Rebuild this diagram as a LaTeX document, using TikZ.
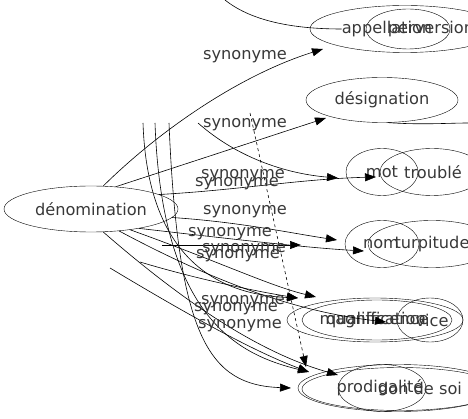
\documentclass[tikz,border=0pt]{standalone}
\usepackage{fontspec}
\setmainfont{DejaVu Sans}
\usetikzlibrary{arrows.meta,shapes.geometric}

\begin{document}
\begin{tikzpicture}[x=1pt,y=-1pt,font=\fontsize{16.2}{17}\selectfont,
  nd/.style={draw,ellipse,inner sep=0pt,minimum width=#1},
  edge/.style={-{Triangle[length=11pt,width=8pt]},semithick},
  lbl/.style={inner sep=0pt,text=black!78}]
  \useasboundingbox (0,0) rectangle (468,419);
  % nodes
  \node[nd=174,minimum height=46,text=black!78] (den) at (91,209) {dénomination};
  \node[nd=190,minimum height=47] (appel) at (405,29) {};
  \node[nd=84,minimum height=40] (perv) at (408,29) {};
  \node[lbl] (tappel) at (387,29) {appellation};
  \node[lbl] (tperv) at (431,29) {perversion};
  \node[nd=152,minimum height=45,text=black!78] (desig) at (382,100) {désignation};
  \node[nd=72,minimum height=47] (mot) at (382,172) {};
  \node[nd=104,minimum height=47] (troub) at (432,172) {};
  \node[lbl] (tmot) at (382,172) {mot};
  \node[lbl] (ttroub) at (433,172) {troublé};
  \node[nd=74,minimum height=47] (nom) at (382,244) {};
  \node[nd=128,minimum height=47] (turp) at (432,244) {};
  \node[lbl] (tnom) at (381,244) {nom};
  \node[lbl] (tturp) at (432,244) {turpitude};
  \node[nd=176,minimum height=44] (qualif) at (375,320) {};
  \node[nd=150,minimum height=40] (magni) at (377,320) {};
  \node[nd=66,minimum height=44] (vice) at (430,320) {};
  \node[lbl] (tqualif) at (376,320) {qualification};
  \node[lbl] (tmagni) at (374,320) {magnificence};
  \node[lbl] (tvice) at (432,320) {vice};
  \node[nd=200,minimum height=47] (prod) at (398,388) {};
  \node[nd=196,minimum height=43] (don) at (400,389) {};
  \node[nd=88,minimum height=47] (vil) at (382,388) {};
  \node[lbl] (tprod) at (380,388) {prodigalité};
  \node[lbl] (tdon) at (420,388) {don de soi};
  % free ends
  \coordinate (s1) at (198,123);
  \coordinate (s2) at (162,245);
  \coordinate (s3) at (110,268);
  \coordinate (s4) at (250,113);
  \coordinate (s5) at (143,123);
  \coordinate (s6) at (155,123);
  \coordinate (s7) at (169,123);
  \coordinate (s8) at (225,0);
  \coordinate (s9) at (140,262);
  \coordinate (t1) at (323,49);
  \coordinate (t2) at (326,118);
  \coordinate (t3) at (338,178);
  \coordinate (t4) at (376,177);
  \coordinate (t5) at (301,245);
  \coordinate (t6) at (337,240);
  \coordinate (t7) at (364,251);
  \coordinate (t8) at (298,298);
  \coordinate (t9) at (316,297);
  \coordinate (t10) at (386,322);
  \coordinate (t11) at (338,375);
  \coordinate (t12) at (309,372);
  \coordinate (t13) at (306,367);
  \coordinate (t14) at (291,388);
  % edges
  \draw[edge] (den.62) .. controls (160,130) and (240,75) .. (t1);
  \draw[semithick] (s8) .. controls (250,20) and (290,29) .. (tappel.west);
  \draw[edge] (den.42) -- (t2);
  \draw[semithick] (desig.-75) .. controls (420,125) and (450,123) .. (468,123);
  \draw[edge] (s1) .. controls (240,160) and (290,174) .. (t3);
  \draw[edge] (den.12) .. controls (240,190) and (300,179) .. (t4);
  \draw[edge] (s2) -- (t5);
  \draw[edge] (den.-6) .. controls (240,222) and (290,233) .. (t6);
  \draw[edge] (den.-22) .. controls (240,240) and (310,248) .. (t7);
  \draw[edge] (s9) .. controls (200,280) and (260,292) .. (t8);
  \draw[edge] (den.-28) .. controls (220,262) and (270,286) .. (t9);
  \draw[edge] (den.-38) .. controls (220,285) and (300,312) .. (t10);
  \draw[edge] (s5) .. controls (148,270) and (230,295) .. (t8);
  \draw[edge] (s6) .. controls (162,320) and (240,355) .. (t12);
  \draw[edge] (den.-62) .. controls (170,290) and (250,350) .. (t11);
  \draw[edge] (s3) .. controls (180,310) and (250,350) .. (t12);
  \draw[edge] (s7) .. controls (178,340) and (210,385) .. (t14);
  \draw[edge,dashed] (s4) -- (t13);
  % labels
  \node[lbl] (l1) at (245,57) {synonyme};
  \node[lbl] (l2) at (245,125) {synonyme};
  \node[lbl] (l3) at (243,176) {synonyme};
  \node[lbl] (l4) at (237,184) {synonyme};
  \node[lbl] (l5) at (245,212) {synonyme};
  \node[lbl] (l6) at (230,234) {synonyme};
  \node[lbl] (l7) at (244,250) {synonyme};
  \node[lbl] (l8) at (238,256) {synonyme};
  \node[lbl] (l9) at (243,302) {synonyme};
  \node[lbl] (l10) at (236,309) {synonyme};
  \node[lbl] (l11) at (240,326) {synonyme};
\end{tikzpicture}
\end{document}
